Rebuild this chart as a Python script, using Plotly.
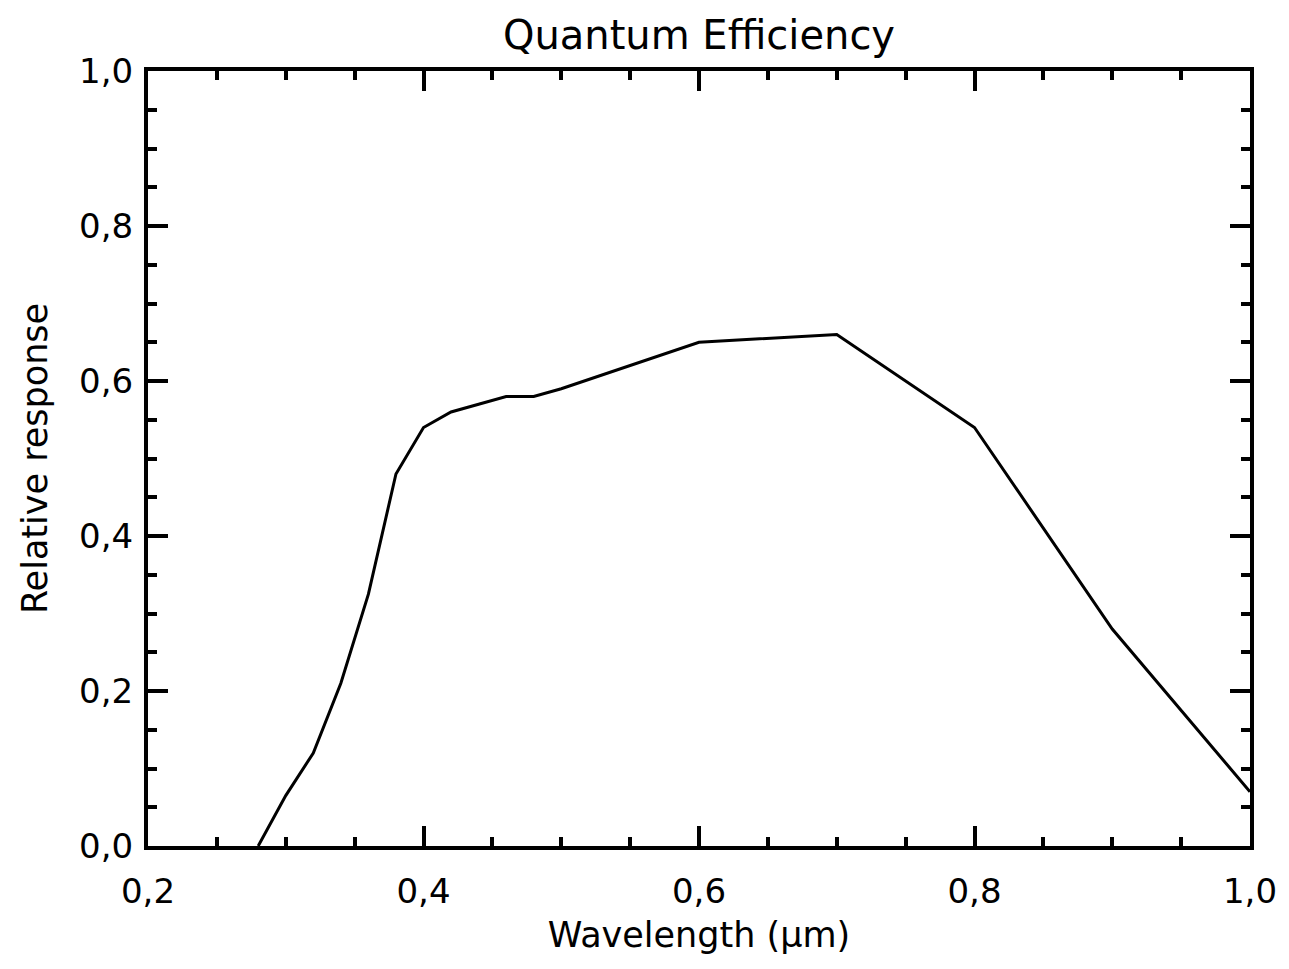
import plotly.graph_objects as go

# Data
wavelength = [0.28, 0.30, 0.32, 0.34, 0.36, 0.38, 0.40, 0.42, 0.44, 0.46, 0.48, 0.50, 0.60, 0.70, 0.80, 0.90, 1.00]
response = [0.00, 0.065, 0.12, 0.21, 0.325, 0.48, 0.54, 0.56, 0.57, 0.58, 0.58, 0.59, 0.65, 0.66, 0.54, 0.28, 0.07]

x_ticks = [0.2, 0.4, 0.6, 0.8, 1.0]
y_ticks = [0.0, 0.2, 0.4, 0.6, 0.8, 1.0]

FONT = "DejaVu Sans"

# page body has an 8px default margin; size figure to fit the 1289x969 window
W, H = 1281, 953

fig = go.Figure()
fig.add_trace(go.Scatter(
    x=wavelength, y=response, mode="lines",
    line=dict(color="black", width=3),
    showlegend=False, hoverinfo="skip",
))

axis_common = dict(
    showgrid=False, zeroline=False,
    showline=True, linewidth=4, linecolor="black", mirror="ticks",
    ticks="inside", ticklen=20, tickwidth=4, tickcolor="black",
    tickformat=".1f",
    tickfont=dict(family=FONT, size=34, color="black"),
    minor=dict(ticks="inside", ticklen=9, tickwidth=4, tickcolor="black", dtick=0.05),
)

fig.update_xaxes(
    range=[0.2, 1.0], tickvals=x_ticks,
    title=dict(text="Wavelength (μm)", font=dict(family=FONT, size=35, color="black"), standoff=14),
    ticklabelstandoff=12,
    **axis_common,
)
fig.update_yaxes(
    range=[0.0, 1.0], tickvals=y_ticks,
    title=dict(text="Relative response", font=dict(family=FONT, size=35, color="black"), standoff=22),
    ticklabelstandoff=4,
    **axis_common,
)

fig.update_layout(
    width=W, height=H,
    margin=dict(l=140, r=34, t=63, b=112),
    paper_bgcolor="white", plot_bgcolor="white",
    separators=",.",
    title=dict(text="Quantum Efficiency", x=0.5, xref="paper", xanchor="center",
               y=1 - 27 / H, yref="container", yanchor="middle",
               font=dict(family=FONT, size=40, color="black")),
)

fig.write_html("out.html")
